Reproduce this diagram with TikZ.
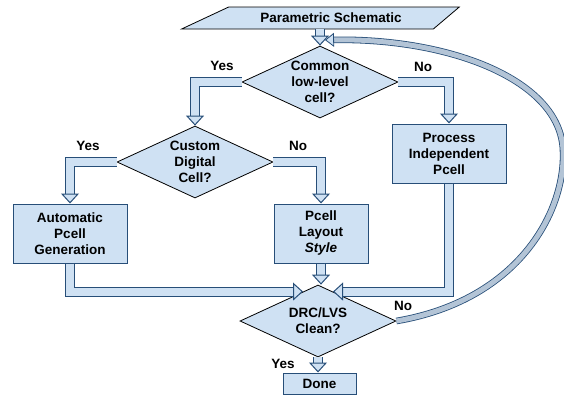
\documentclass[tikz,border=0pt]{standalone}
\usepackage{fontspec}
\setmainfont{Liberation Sans}
\usetikzlibrary{shapes.geometric,arrows.meta}
\definecolor{boxblue}{HTML}{CFE1F3}
\definecolor{edgeblue}{HTML}{274E78}
\definecolor{loopblue}{HTML}{B3C4D6}
\begin{document}
\begin{tikzpicture}[x=1pt,y=-1pt,
  every node/.style={font=\fontsize{13.5}{16}\selectfont\bfseries, align=center},
  box/.style={draw=edgeblue, fill=boxblue, line width=1pt, inner sep=0pt},
  decision/.style={diamond, shape aspect=2.17, draw=black, fill=boxblue, line width=0.8pt,
    inner sep=0pt, minimum width=156pt, minimum height=72pt},
  pipe/.style={draw=edgeblue, line width=1pt, double=boxblue, double distance=8pt,
    -{Triangle[width=18pt,length=10pt,line width=1pt,fill=boxblue]}},
  looppipe/.style={draw=edgeblue, line width=0.8pt, double=loopblue, double distance=5pt,
    -{Triangle[width=14pt,length=9pt,line width=0.8pt,fill=boxblue]}},
  ]
\useasboundingbox (0,0) rectangle (564,397);

% start
\node[trapezium, trapezium left angle=17, trapezium right angle=151, trapezium stretches=true,
  draw=black, fill=boxblue, line width=0.8pt, minimum width=278pt, minimum height=22pt,
  inner sep=0pt] (param) at (331,18) {Parametric Schematic};

% decisions
\node[decision] (common) at (320,82) {Common\\low-level\\cell?};
\node[decision] (custom) at (195,162) {Custom\\Digital\\Cell?};
\node[decision] (drc) at (318,321) {DRC/LVS\\Clean?};

% boxes
\node[box, minimum width=114pt, minimum height=59pt] (auto) at (70,233.5) {Automatic\\Pcell\\Generation};
\node[box, minimum width=94pt, minimum height=59pt] (pcell) at (321,233.5) {Pcell\\Layout\\\textit{Style}};
\node[box, minimum width=114pt, minimum height=59pt] (proc) at (449,153.5) {Process\\Independent\\Pcell};
\node[box, minimum width=73pt, minimum height=21pt] (done) at (319.5,383.5) {Done};

% yes / no
\node (yes1) at (222,66) {Yes};
\node (no1) at (423,67) {No};
\node (yes2) at (88,146) {Yes};
\node (no2) at (298,146) {No};
\node (no3) at (403,306) {No};
\node (yes3) at (283,364) {Yes};

% connectors
\draw[pipe] (param.south -| common.north) -- (common.north);
\draw[pipe] (common.west) -| (custom.north);
\draw[pipe] (common.east) -| (proc.north);
\draw[pipe] (custom.west) -| (auto.north);
\draw[pipe] (custom.east) -| (pcell.north);
\draw[pipe] (auto.south) |- (drc.117);
\draw[pipe] (proc.south) |- (drc.63);
\draw[pipe] (pcell.south) -- (pcell.south |- drc.north);
\draw[pipe] (drc.south) -- (drc.south |- done.north);

% back to the start
\coordinate (fbend) at (325,40);
\draw[looppipe] (drc.east) .. controls (520,300) and (566,210) .. (563,150)
  .. controls (560,80) and (450,38) .. (fbend);
\end{tikzpicture}
\end{document}
